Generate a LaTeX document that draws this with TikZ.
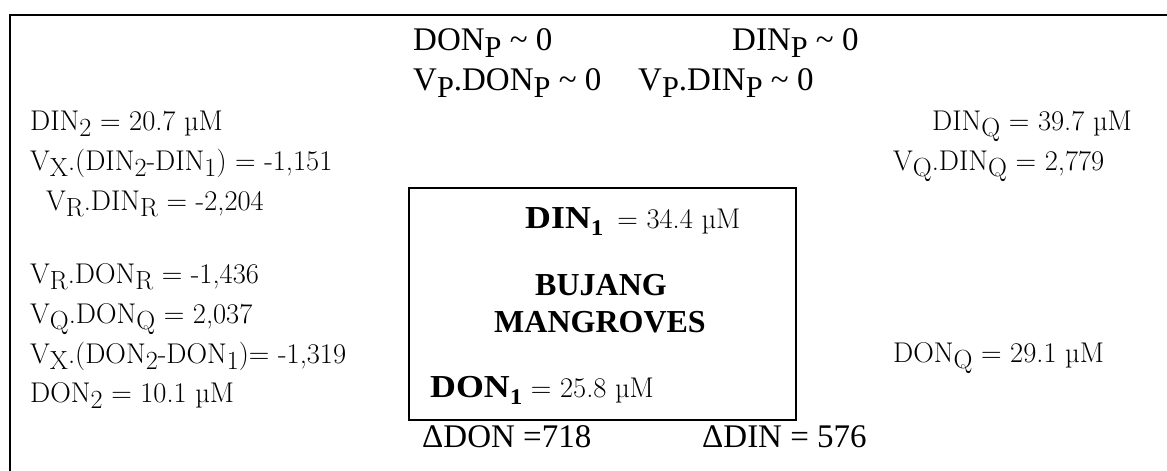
\documentclass[tikz,border=0pt]{standalone}
\usepackage{fontspec}
\newfontfamily\tms{Liberation Serif}
% lowered index letters (DIN_2, V_X, ...), set almost at full size
\newcommand\lo[1]{\raisebox{-0.22em}{\scalebox{0.92}{#1}}}
\newcommand\bo[1]{\raisebox{-0.22em}{\scalebox{0.7}{#1}}}
\newcommand\bfx{\tms\bfseries\fontsize{32}{36}\selectfont}
\newcommand\tmsx{\tms\fontsize{33}{38}\selectfont}
\newcommand\rmx{\fontsize{28.5}{34}\selectfont\addfontfeature{FakeBold=0.8}}
\begin{document}
\begin{tikzpicture}[x=1pt,y=-1pt,
  lbl/.style={anchor=base west,inner sep=0pt,font=\rmx},
  tlbl/.style={anchor=base west,inner sep=0pt,font=\tmsx},
  blbl/.style={anchor=base,inner sep=0pt,font=\bfx},
  frame/.style={line width=2pt},
  basin/.style={draw,line width=1.4pt,minimum width=387pt,minimum height=232pt,inner sep=0pt}]
\useasboundingbox (0,0) rectangle (1167,471);

% outer frame (top and left edges)
\draw[frame] (10,471) -- (10,15) -- (1167,15);

% mangrove box
\node[basin] (box) at (602.5,304) {};

% exchange with precipitation
\node[tlbl] (donp)   at (413,50) {DON\lo{P} \textasciitilde{} 0};
\node[tlbl] (dinp)   at (732,50) {DIN\lo{P} \textasciitilde{} 0};
\node[tlbl] (vpdonp) at (413,90) {V\lo{P}.DON\lo{P} \textasciitilde{} 0};
\node[tlbl] (vpdinp) at (638,90) {V\lo{P}.DIN\lo{P} \textasciitilde{} 0};

% seaward side
\node[lbl] (din2)  at (30,130) {DIN\lo{2} = 20.7 µM};
\node[lbl] (vxdin) at (30,170) {V\lo{X}.(DIN\lo{2}-DIN\lo{1}) = -1,151};
\node[lbl] (vrdin) at (46,210) {V\lo{R}.DIN\lo{R} = -2,204};
\node[lbl] (vrdon) at (30,283) {V\lo{R}.DON\lo{R} = -1,436};
\node[lbl] (vqdon) at (30,323) {V\lo{Q}.DON\lo{Q} = 2,037};
\node[lbl] (vxdon) at (30,363) {V\lo{X}.(DON\lo{2}-DON\lo{1})= -1,319};
\node[lbl] (don2)  at (30,402) {DON\lo{2} = 10.1 µM};

% river side
\node[lbl] (dinq)  at (932,130) {DIN\lo{Q} = 39.7 µM};
\node[lbl] (vqdin) at (893,170) {V\lo{Q}.DIN\lo{Q} = 2,779};
\node[lbl] (donq)  at (893,362) {DON\lo{Q} = 29.1 µM};

% inside the box
\node[lbl] (din1) at (525,228) {{\bfx\addfontfeature{FakeStretch=1.12}DIN\bo{1}}\hspace{14pt}= 34.4 µM};
\node[blbl] (bujang)    at (601,295) {BUJANG};
\node[blbl] (mangroves) at (600,332) {MANGROVES};
\node[lbl] (don1) at (430,397) {{\bfx\addfontfeature{FakeStretch=1.12}DON\bo{1}} = 25.8 µM};

% internal sources/sinks
\node[tlbl] (ddon) at (422,447) {ΔDON =718};
\node[tlbl] (ddin) at (702,447) {ΔDIN = 576};
\end{tikzpicture}
\end{document}
